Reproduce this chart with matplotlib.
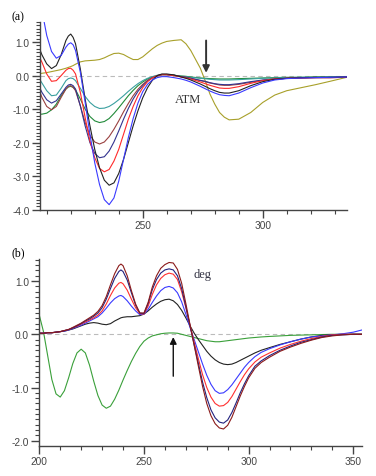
import numpy as np
import matplotlib
matplotlib.use("Agg")
import matplotlib.pyplot as plt
from matplotlib.ticker import MultipleLocator, FormatStrFormatter

plt.rcParams["axes.unicode_minus"] = False

# ---- панель (a): длины волн и спектры КД ----
xa = [207, 208, 210, 212, 214, 216, 218, 219, 220, 221, 222, 224, 226, 228, 230, 232, 234, 236, 238, 240,
      242, 244, 246, 248, 250, 252, 254, 256, 258, 260, 263, 266, 268, 270, 274, 276, 278, 280, 282, 284,
      286, 290, 295, 300, 305, 310, 316, 322, 328, 335]

blue_a = [2.4, 1.95, 1.2, 0.72, 0.52, 0.6, 0.85, 0.94, 0.98, 0.92, 0.75, 0.1, -0.8, -1.75, -2.6, -3.25, -3.7, -3.85, -3.65, -3.15,
          -2.5, -1.85, -1.28, -0.82, -0.48, -0.26, -0.13, -0.06, -0.03, -0.03, -0.06, -0.1, -0.14, -0.19, -0.32, -0.39, -0.46, -0.52, -0.57, -0.59,
          -0.6, -0.52, -0.36, -0.22, -0.13, -0.09, -0.07, -0.06, -0.05, -0.04]
black_a = [0.8, 0.62, 0.35, 0.21, 0.3, 0.62, 1.05, 1.18, 1.24, 1.14, 0.95, 0.2, -0.7, -1.5, -2.2, -2.75, -3.12, -3.27, -3.2, -2.92,
           -2.5, -2.0, -1.5, -1.05, -0.66, -0.36, -0.14, 0.0, 0.05, 0.05, 0.02, -0.04, -0.08, -0.13, -0.25, -0.32, -0.39, -0.45, -0.5, -0.52,
           -0.52, -0.45, -0.3, -0.18, -0.11, -0.08, -0.06, -0.05, -0.05, -0.04]
red_a = [0.55, 0.4, 0.05, -0.17, -0.15, 0.0, 0.16, 0.21, 0.22, 0.16, 0.05, -0.5, -1.25, -1.95, -2.45, -2.77, -2.87, -2.8, -2.55, -2.2,
         -1.75, -1.3, -0.92, -0.6, -0.36, -0.18, -0.07, 0.0, 0.03, 0.03, 0.0, -0.04, -0.07, -0.1, -0.19, -0.24, -0.29, -0.33, -0.37, -0.38,
         -0.38, -0.33, -0.23, -0.15, -0.1, -0.08, -0.07, -0.06, -0.06, -0.05]
navy_a = [-0.35, -0.5, -0.72, -0.82, -0.75, -0.55, -0.35, -0.28, -0.26, -0.3, -0.4, -0.9, -1.5, -2.0, -2.32, -2.45, -2.42, -2.25, -1.98, -1.65,
          -1.3, -0.98, -0.7, -0.47, -0.3, -0.16, -0.07, -0.01, 0.03, 0.03, 0.01, -0.03, -0.05, -0.08, -0.14, -0.17, -0.21, -0.24, -0.26, -0.27,
          -0.27, -0.24, -0.18, -0.13, -0.1, -0.08, -0.07, -0.06, -0.06, -0.05]
brown_a = [-0.45, -0.65, -0.92, -1.02, -0.92, -0.65, -0.4, -0.32, -0.3, -0.35, -0.45, -0.9, -1.4, -1.78, -1.98, -2.04, -1.98, -1.82, -1.6, -1.35,
           -1.08, -0.83, -0.6, -0.41, -0.26, -0.14, -0.06, -0.01, 0.03, 0.03, 0.01, -0.03, -0.05, -0.08, -0.15, -0.18, -0.22, -0.25, -0.28, -0.29,
           -0.29, -0.26, -0.2, -0.14, -0.1, -0.08, -0.07, -0.06, -0.06, -0.05]
teal_a = [-0.1, -0.22, -0.45, -0.6, -0.58, -0.38, -0.15, -0.09, -0.07, -0.09, -0.15, -0.38, -0.62, -0.8, -0.92, -0.98, -0.97, -0.92, -0.83, -0.72,
          -0.6, -0.47, -0.35, -0.24, -0.15, -0.08, -0.03, 0.01, 0.03, 0.03, 0.01, -0.02, -0.03, -0.05, -0.08, -0.095, -0.11, -0.12, -0.13, -0.13,
          -0.13, -0.12, -0.1, -0.08, -0.07, -0.06, -0.05, -0.05, -0.04, -0.04]
green_a = [-1.15, -1.15, -1.12, -1.02, -0.85, -0.6, -0.4, -0.34, -0.32, -0.35, -0.42, -0.7, -1.0, -1.22, -1.35, -1.4, -1.37, -1.28, -1.13, -0.96,
           -0.78, -0.6, -0.44, -0.3, -0.19, -0.1, -0.04, 0.0, 0.03, 0.03, 0.01, -0.01, -0.02, -0.04, -0.07, -0.08, -0.09, -0.095, -0.1, -0.1,
           -0.1, -0.09, -0.08, -0.07, -0.06, -0.05, -0.05, -0.04, -0.04, -0.03]
olive_a = [0.06, 0.07, 0.09, 0.12, 0.15, 0.18, 0.22, 0.245, 0.27, 0.3, 0.34, 0.41, 0.44, 0.45, 0.46, 0.48, 0.53, 0.6, 0.66, 0.67,
           0.63, 0.55, 0.48, 0.48, 0.56, 0.68, 0.8, 0.9, 0.97, 1.02, 1.05, 1.07, 0.95, 0.75, 0.22, -0.15, -0.55, -0.85, -1.1, -1.24,
           -1.32, -1.3, -1.1, -0.8, -0.58, -0.45, -0.36, -0.27, -0.17, -0.05]

# ---- панель (b) ----
xb = [200, 202, 204, 206, 208, 210, 212, 214, 216, 218, 220, 222, 224, 226, 228, 230, 232, 234, 236, 238,
      239, 240, 242, 244, 246, 248, 250, 252, 254, 256, 258, 260, 262, 264, 266, 268, 270, 272, 274, 276,
      278, 280, 282, 284, 286, 288, 290, 292, 294, 296, 298, 300, 303, 306, 310, 315, 320, 325, 330, 335,
      340, 345, 350, 354]

green_b = [0.36, 0.05, -0.4, -0.85, -1.12, -1.18, -1.06, -0.82, -0.55, -0.35, -0.28, -0.35, -0.58, -0.88, -1.15, -1.33, -1.39, -1.35, -1.22, -1.05,
           -0.955, -0.86, -0.68, -0.51, -0.36, -0.23, -0.13, -0.07, -0.03, -0.01, 0.01, 0.02, 0.025, 0.025, 0.02, 0.0, -0.02, -0.04, -0.06, -0.08,
           -0.1, -0.12, -0.13, -0.14, -0.14, -0.13, -0.12, -0.11, -0.1, -0.09, -0.08, -0.07, -0.06, -0.05, -0.04, -0.03, -0.02, -0.015, -0.01, -0.005,
           0.0, 0.0, 0.0, 0.0]
black_b = [0.02, 0.02, 0.03, 0.03, 0.04, 0.05, 0.06, 0.08, 0.1, 0.13, 0.16, 0.19, 0.21, 0.22, 0.21, 0.19, 0.18, 0.2, 0.25, 0.29,
           0.31, 0.32, 0.33, 0.33, 0.34, 0.35, 0.38, 0.44, 0.51, 0.57, 0.62, 0.65, 0.66, 0.63, 0.56, 0.45, 0.31, 0.16, 0.02, -0.1,
           -0.21, -0.32, -0.41, -0.48, -0.53, -0.56, -0.57, -0.56, -0.53, -0.49, -0.45, -0.41, -0.35, -0.3, -0.25, -0.19, -0.14, -0.09, -0.05, -0.02,
           -0.01, 0.0, 0.0, 0.0]
blue_b = [0.02, 0.02, 0.03, 0.03, 0.04, 0.05, 0.06, 0.08, 0.11, 0.14, 0.17, 0.21, 0.25, 0.29, 0.33, 0.4, 0.49, 0.59, 0.67, 0.72,
          0.73, 0.71, 0.63, 0.53, 0.44, 0.37, 0.38, 0.47, 0.6, 0.72, 0.82, 0.88, 0.9, 0.87, 0.78, 0.61, 0.38, 0.13, -0.1, -0.33,
          -0.56, -0.77, -0.94, -1.06, -1.11, -1.1, -1.04, -0.95, -0.84, -0.73, -0.62, -0.53, -0.42, -0.34, -0.27, -0.2, -0.14, -0.09, -0.05, -0.03,
          -0.01, 0.01, 0.04, 0.08]
red_b = [0.02, 0.02, 0.03, 0.03, 0.04, 0.05, 0.07, 0.09, 0.12, 0.15, 0.19, 0.23, 0.27, 0.31, 0.36, 0.44, 0.57, 0.73, 0.87, 0.96,
         0.975, 0.95, 0.83, 0.66, 0.5, 0.39, 0.38, 0.53, 0.75, 0.93, 1.05, 1.12, 1.15, 1.13, 1.03, 0.8, 0.5, 0.17, -0.15, -0.46,
         -0.76, -1.0, -1.18, -1.3, -1.35, -1.34, -1.28, -1.17, -1.03, -0.89, -0.76, -0.65, -0.52, -0.43, -0.35, -0.26, -0.19, -0.13, -0.08, -0.04,
         -0.01, 0.0, 0.0, 0.0]
navy_b = [0.02, 0.02, 0.03, 0.03, 0.04, 0.05, 0.07, 0.09, 0.12, 0.16, 0.2, 0.25, 0.29, 0.34, 0.4, 0.5, 0.66, 0.86, 1.05, 1.18,
          1.21, 1.18, 1.02, 0.78, 0.55, 0.4, 0.39, 0.58, 0.84, 1.03, 1.15, 1.21, 1.23, 1.21, 1.1, 0.86, 0.52, 0.16, -0.2, -0.55,
          -0.9, -1.19, -1.42, -1.57, -1.65, -1.67, -1.61, -1.47, -1.29, -1.1, -0.93, -0.78, -0.6, -0.5, -0.4, -0.3, -0.22, -0.15, -0.1, -0.05,
          -0.02, -0.01, 0.0, 0.0]
brown_b = [0.02, 0.02, 0.03, 0.03, 0.04, 0.05, 0.07, 0.09, 0.13, 0.17, 0.21, 0.26, 0.31, 0.36, 0.43, 0.54, 0.71, 0.93, 1.14, 1.29,
           1.32, 1.29, 1.1, 0.82, 0.57, 0.4, 0.4, 0.6, 0.89, 1.1, 1.24, 1.31, 1.35, 1.34, 1.22, 0.96, 0.58, 0.18, -0.21, -0.6,
           -0.98, -1.3, -1.53, -1.68, -1.76, -1.78, -1.71, -1.56, -1.36, -1.16, -0.98, -0.82, -0.64, -0.53, -0.43, -0.32, -0.24, -0.17, -0.11, -0.06,
           -0.03, -0.01, 0.0, 0.0]

tick_font = {"family": ["Liberation Sans", "DejaVu Sans"], "size": 7.3}
AX_COL = "#444444"


def style_axes(ax, ymin, ymax):
    ax.spines["top"].set_visible(False)
    ax.spines["right"].set_visible(False)
    for s in ("left", "bottom"):
        ax.spines[s].set_color(AX_COL)
        ax.spines[s].set_linewidth(1.0)
    ax.xaxis.set_major_locator(MultipleLocator(50))
    ax.xaxis.set_minor_locator(MultipleLocator(10))
    ax.yaxis.set_major_locator(MultipleLocator(1.0))
    ax.yaxis.set_minor_locator(MultipleLocator(0.1))
    ax.yaxis.set_major_formatter(FormatStrFormatter("%.1f"))
    ax.tick_params(which="major", length=5.5, width=1, color=AX_COL, pad=2, labelcolor="#444444")
    ax.tick_params(which="minor", length=3, width=0.8, color=AX_COL)
    for lab in ax.get_xticklabels() + ax.get_yticklabels():
        lab.set_fontfamily(tick_font["family"])
        lab.set_fontsize(tick_font["size"])
    ax.axhline(0, color="#bbbbbb", lw=0.8, ls=(0, (4, 3)), zorder=0)
    ax.set_ylim(ymin, ymax)


fig = plt.figure(figsize=(3.76, 4.77), dpi=100)
lw = 0.8

# (a)
ax1 = fig.add_axes([0.1064, 0.5583, 0.8165, 0.3935])
ax1.plot(xa, olive_a, color="#a8a02a", lw=lw)
ax1.plot(xa, green_a, color="#228b3a", lw=lw)
ax1.plot(xa, teal_a, color="#3aa0a0", lw=lw)
ax1.plot(xa, brown_a, color="#9a4040", lw=lw)
ax1.plot(xa, navy_a, color="#33338f", lw=lw)
ax1.plot(xa, red_a, color="#ff2a2a", lw=lw)
ax1.plot(xa, black_a, color="#222222", lw=lw)
ax1.plot(xa, blue_a, color="#3a3aff", lw=lw)
ax1.set_xlim(207.2, 335.1)
style_axes(ax1, -4.0, 1.6)
ax1.annotate("", xy=(276.4, 0.0), xytext=(276.4, 1.13),
             arrowprops=dict(arrowstyle="-|>", color="#333333", lw=1.4, mutation_scale=10))
ax1.text(268.7, -0.7, "ATM", fontsize=9, family=["Liberation Serif", "DejaVu Serif"],
         color="#333333", ha="center", va="center")

# (b)
ax2 = fig.add_axes([0.1045, 0.0635, 0.8574, 0.3914])
ax2.plot(xb, green_b, color="#3aa03a", lw=lw)
ax2.plot(xb, black_b, color="#222222", lw=lw)
ax2.plot(xb, blue_b, color="#3a3aff", lw=lw)
ax2.plot(xb, red_b, color="#ff3030", lw=lw)
ax2.plot(xb, navy_b, color="#22227f", lw=lw)
ax2.plot(xb, brown_b, color="#8b1a1a", lw=lw)
ax2.set_xlim(200, 354)
style_axes(ax2, -2.094, 1.415)
ax2.annotate("", xy=(264, 0.0), xytext=(264, -0.84),
             arrowprops=dict(arrowstyle="-|>", color="#111111", lw=1.0, mutation_scale=10))
ax2.text(278, 1.13, "deg", fontsize=9, family=["Liberation Serif", "DejaVu Serif"],
         color="#333344", ha="center", va="center")

fig.text(0.049, 0.964, "(a)", fontsize=8.5, family=["Liberation Serif", "DejaVu Serif"], ha="center", va="center")
fig.text(0.049, 0.470, "(b)", fontsize=8.5, family=["Liberation Serif", "DejaVu Serif"], ha="center", va="center")

fig.savefig("out.png", dpi=100)
